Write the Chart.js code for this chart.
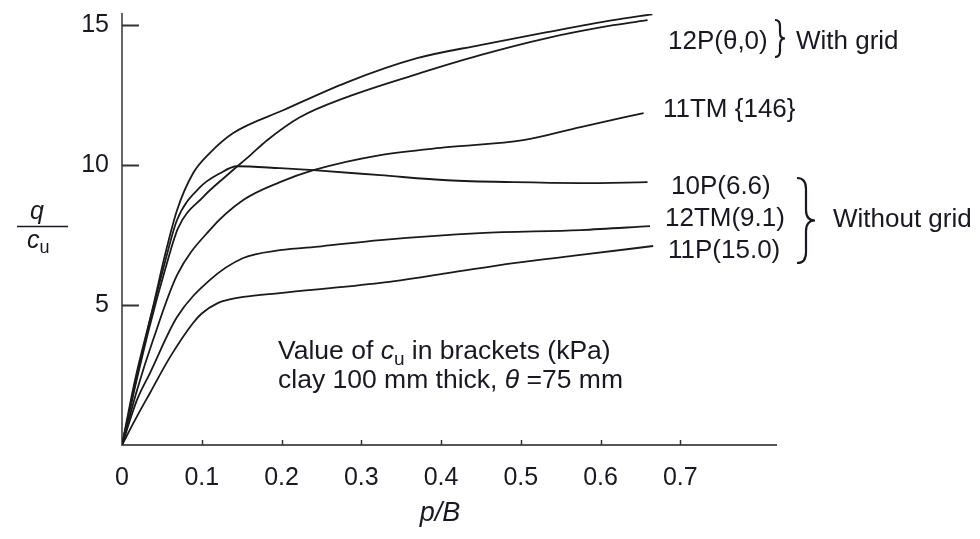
<!DOCTYPE html>
<html>
<head>
<meta charset="utf-8">
<script src="https://cdn.jsdelivr.net/npm/chart.js@4.4.1/dist/chart.umd.min.js"></script>
<style>
html,body{margin:0;padding:0;background:#fff;}
canvas{display:block;}
</style>
</head>
<body>
<canvas id="c" width="980" height="539"></canvas>
<script>
// ---- data (p/B , q/cu) ----
const xTickValues = [0, 0.1, 0.2, 0.3, 0.4, 0.5, 0.6, 0.7];
const yTickValues = [5, 10, 15];

const p12P_upper_x = [0, 0.0163, 0.0389, 0.0539, 0.069, 0.0891, 0.110, 0.139, 0.202, 0.282, 0.370, 0.449, 0.533, 0.616, 0.665];
const p12P_upper_y = [0, 2.32, 4.93, 6.79, 8.39, 9.71, 10.43, 11.14, 11.96, 12.96, 13.82, 14.29, 14.75, 15.18, 15.39];

const p12P_lower_x = [0, 0.0163, 0.0351, 0.0539, 0.0703, 0.1016, 0.1317, 0.161, 0.182, 0.223, 0.282, 0.365, 0.449, 0.533, 0.616, 0.659];
const p12P_lower_y = [0, 2.07, 4.29, 6.25, 7.75, 8.86, 9.64, 10.36, 10.89, 11.71, 12.43, 13.21, 13.93, 14.54, 15.0, 15.18];

const tm11_x = [0, 0.0188, 0.0389, 0.069, 0.110, 0.152, 0.198, 0.240, 0.324, 0.408, 0.503, 0.575, 0.654];
const tm11_y = [0, 1.96, 3.75, 6.07, 7.68, 8.75, 9.39, 9.82, 10.36, 10.64, 10.89, 11.36, 11.86];

const p10_x = [0, 0.0163, 0.0351, 0.0539, 0.069, 0.0979, 0.123, 0.144, 0.198, 0.240, 0.324, 0.408, 0.491, 0.575, 0.659];
const p10_y = [0, 2.14, 4.46, 6.54, 8.04, 9.21, 9.71, 9.96, 9.89, 9.82, 9.64, 9.46, 9.39, 9.36, 9.39];

const tm12_x = [0, 0.0188, 0.0351, 0.069, 0.110, 0.152, 0.198, 0.250, 0.324, 0.449, 0.575, 0.662];
const tm12_y = [0, 1.61, 2.57, 4.57, 5.89, 6.68, 6.96, 7.10, 7.32, 7.57, 7.68, 7.82];

const p11_x = [0, 0.0176, 0.0351, 0.0602, 0.0891, 0.100, 0.120, 0.135, 0.152, 0.198, 0.324, 0.408, 0.491, 0.575, 0.666];
const p11_y = [0, 0.96, 1.86, 3.14, 4.36, 4.70, 5.07, 5.20, 5.29, 5.43, 5.79, 6.14, 6.50, 6.79, 7.11];

const seriesNames = ['12P upper', '12P lower', '11TM', '10P', '12TM', '11P'];

// ---- build ----
const pairs = (xs, ys) => xs.map((x, i) => ({x: x, y: ys[i]}));
const allSeries = [
  pairs(p12P_upper_x, p12P_upper_y),
  pairs(p12P_lower_x, p12P_lower_y),
  pairs(tm11_x, tm11_y),
  pairs(p10_x, p10_y),
  pairs(tm12_x, tm12_y),
  pairs(p11_x, p11_y)
];

const INK = '#181822';
const FONT = "'Liberation Sans', Arial, Helvetica, sans-serif";
const FS = 25;

function richText(ctx, x, y, parts, fs) {
  let cx = x;
  for (const [t, st] of parts) {
    if (st === 's') {
      ctx.font = `${Math.round(fs * 0.72)}px ${FONT}`;
      ctx.fillText(t, cx, y + fs * 0.3);
    } else {
      ctx.font = `${st === 'i' ? 'italic ' : ''}${fs}px ${FONT}`;
      ctx.fillText(t, cx, y);
    }
    cx += ctx.measureText(t).width;
  }
  return cx;
}

function brace(ctx, x, yTop, yBot, w) {
  const yMid = (yTop + yBot) / 2;
  const r = w * 0.5;
  ctx.beginPath();
  ctx.moveTo(x, yTop);
  ctx.quadraticCurveTo(x + r, yTop, x + r, yTop + r * 1.2);
  ctx.lineTo(x + r, yMid - r * 1.2);
  ctx.quadraticCurveTo(x + r, yMid, x + w, yMid);
  ctx.quadraticCurveTo(x + r, yMid, x + r, yMid + r * 1.2);
  ctx.lineTo(x + r, yBot - r * 1.2);
  ctx.quadraticCurveTo(x + r, yBot, x, yBot);
  ctx.stroke();
}

const decor = {
  id: 'decor',
  afterDraw(chart) {
    const ctx = chart.ctx;
    const xs = chart.scales.x, ys = chart.scales.y;
    const ca = chart.chartArea;
    ctx.save();
    // inward tick marks
    ctx.strokeStyle = '#333';
    ctx.lineWidth = 2;
    for (const v of yTickValues) {
      const py = Math.round(ys.getPixelForValue(v)) + 0.5;
      ctx.beginPath(); ctx.moveTo(ca.left, py); ctx.lineTo(ca.left + 17, py); ctx.stroke();
    }
    ctx.lineWidth = 1.5;
    for (const v of xTickValues) {
      if (v === 0) continue;
      const px = Math.round(xs.getPixelForValue(v)) + 0.5;
      ctx.beginPath(); ctx.moveTo(px, ca.bottom); ctx.lineTo(px, ca.bottom - 5); ctx.stroke();
    }

    ctx.fillStyle = INK;
    ctx.textBaseline = 'middle';
    ctx.textAlign = 'left';

    // y axis title q / c_u
    ctx.font = `italic ${FS}px ${FONT}`;
    ctx.fillText('q', 30, 212);
    ctx.strokeStyle = INK;
    ctx.lineWidth = 1.5;
    ctx.beginPath(); ctx.moveTo(17, 226.5); ctx.lineTo(68, 226.5); ctx.stroke();
    richText(ctx, 27, 241, [['c', 'i'], ['u', 's']], FS);

    // x axis title
    ctx.font = `italic ${FS + 2}px ${FONT}`;
    ctx.textAlign = 'center';
    ctx.fillText('p/B', 440, 513);
    ctx.textAlign = 'left';

    // series labels
    ctx.font = `26px ${FONT}`;
    ctx.fillText('12P(\u03b8,0)', 668, 42);
    ctx.fillText('With grid', 796, 42);
    ctx.fillText('11TM {146}', 663, 110);
    ctx.fillText('10P(6.6)', 671, 187);
    ctx.fillText('12TM(9.1)', 665, 219);
    ctx.fillText('11P(15.0)', 668, 251);
    ctx.fillText('Without grid', 833, 220);

    // braces
    ctx.strokeStyle = INK;
    ctx.lineWidth = 2.2;
    brace(ctx, 775, 20, 57, 10);
    brace(ctx, 797, 178, 263, 18);

    // note
    richText(ctx, 278, 352, [['Value of ', 'n'], ['c', 'i'], ['u', 's'], [' in brackets (kPa)', 'n']], 26.5);
    richText(ctx, 278, 381, [['clay 100 mm thick, ', 'n'], ['\u03b8', 'i'], [' =75 mm', 'n']], 26.5);
    ctx.restore();
  }
};

new Chart(document.getElementById('c'), {
  type: 'line',
  data: {
    datasets: allSeries.map((d, i) => ({
      label: seriesNames[i],
      data: d,
      borderColor: '#1a1a1a',
      borderWidth: 1.8,
      pointRadius: 0,
      fill: false,
      cubicInterpolationMode: 'monotone'
    }))
  },
  options: {
    responsive: false,
    animation: false,
    devicePixelRatio: 1,
    layout: {padding: {left: 0, right: 204, top: 14, bottom: 0}},
    plugins: {legend: {display: false}, tooltip: {enabled: false}, title: {display: false}},
    scales: {
      x: {
        type: 'linear',
        min: 0, max: 0.82,
        afterFit: s => { s.height = 94; s.paddingLeft = 0; s.paddingRight = 0; },
        afterBuildTicks: s => { s.ticks = xTickValues.map(v => ({value: v})); },
        grid: {display: true, drawOnChartArea: false, drawTicks: false},
        border: {display: true, color: '#555', width: 2},
        ticks: {
          autoSkip: false, maxRotation: 0, padding: 18, color: INK,
          font: {family: FONT, size: FS},
          callback: v => (v === 0 ? '0' : v.toFixed(1))
        }
      },
      y: {
        type: 'linear',
        min: 0, max: 15.4,
        afterFit: s => { s.width = 122; s.paddingTop = 0; s.paddingBottom = 0; },
        afterBuildTicks: s => { s.ticks = yTickValues.map(v => ({value: v})); },
        grid: {display: true, drawOnChartArea: false, drawTicks: false},
        border: {display: true, color: '#666', width: 2},
        ticks: {
          padding: 13, color: INK,
          font: {family: FONT, size: FS},
          callback: v => String(v)
        }
      }
    }
  },
  plugins: [decor]
});
</script>
</body>
</html>
